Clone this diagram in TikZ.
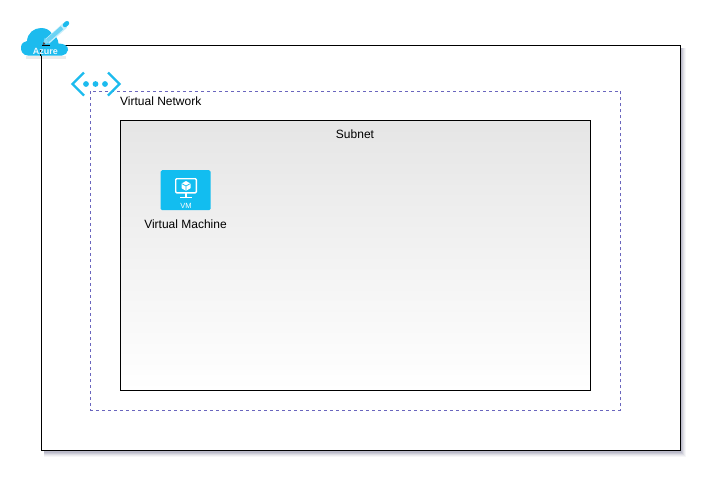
\documentclass[tikz,border=0pt]{standalone}
\usepackage{fontspec}
\setmainfont{Liberation Sans}
\definecolor{azureblue}{HTML}{1CBBEE}
\definecolor{vmblue}{HTML}{12BDF0}
\definecolor{dashblue}{HTML}{6A66BE}
\definecolor{shadowgray}{HTML}{8C8CA8}
\tikzset{
  lbl/.style={font=\fontsize{12}{14}\selectfont,text=black,inner sep=0pt},
  frameouter/.style={draw=black,line width=1pt,fill=white},
  framevnet/.style={draw=dashblue,line width=0.8pt,dash pattern=on 3pt off 3pt},
  framesubnet/.style={draw=black,line width=1pt,top color=black!10,bottom color=white},
  chev/.style={draw=azureblue,line width=2.2pt},
  wht/.style={draw=white,line width=1.4pt,line join=round}
}
\begin{document}
\begin{tikzpicture}[x=1pt,y=-1pt]
\useasboundingbox (0,0) rectangle (712,482);
\fill[white] (0,0) rectangle (712,482);
% shadow of the outer frame
\foreach \d/\o in {6/0.07,5/0.10,4/0.14,3/0.22,2/0.25}{
  \fill[shadowgray,opacity=\o] (44,48) rectangle (680+\d,450.5+\d);
}
\node[frameouter,minimum width=639.5pt,minimum height=405pt,inner sep=0pt,anchor=north west] (outer) at (40.5,45) {};
\node[framevnet,minimum width=530pt,minimum height=319.5pt,inner sep=0pt,anchor=north west] (vnet) at (90,90.5) {};
\node[framesubnet,minimum width=470pt,minimum height=270pt,inner sep=0pt,anchor=north west] (subnet) at (120.2,120.2) {};
\node[lbl,anchor=base west] (vnetlabel) at (120,105) {Virtual Network};
\node[lbl,anchor=base] (subnetlabel) at (355,138) {Subnet};
% Azure cloud
\fill[black,opacity=0.08] (26,56) rectangle (66,58.5);
\fill[azureblue] (28,55.5) .. controls (23,55.5) and (20.5,51) .. (21,47)
  .. controls (21.5,43) and (24,41.5) .. (27,41)
  .. controls (27.5,33) and (34,28) .. (41,28)
  .. controls (46,28) and (50,30) .. (52,34)
  .. controls (56,36) and (58,39) .. (58.5,43.5)
  .. controls (64,43.5) and (68.5,46) .. (68,50)
  .. controls (67.8,53) and (65,55.5) .. (62,55.5) -- cycle;
% pencil
\draw[white!75!azureblue,line width=6pt] (47,41.5) -- (65,25.5);
\draw[azureblue!65!white,line width=4pt] (47,41) -- (62,27.7);
\draw[azureblue,line width=4.5pt,line cap=round] (65,25) -- (67,23.2);
\fill[azureblue!55!white] (43,44.5) -- (44.8,37.8) -- (49.5,43) -- cycle;
\fill[black!70] (42.5,45) -- (43.6,42) -- (45.5,44) -- cycle;
\draw[black,line width=1pt] (42,45) -- (50,45);
\draw[black,line width=1pt] (40.5,50) -- (40.5,55.5);
\node[font=\bfseries\fontsize{9}{10}\selectfont,text=white!90!azureblue,inner sep=0pt] (azure) at (45.5,51) {Azure};
% VNet icon
\draw[chev] (84,72.5) -- (72.5,84) -- (84,95.5);
\draw[chev] (108,72.5) -- (119.5,84) -- (108,95.5);
\fill[azureblue] (86,84) circle (2.9pt) (95.5,84) circle (2.9pt) (105,84) circle (2.9pt);
% VM icon
\node[fill=vmblue,rounded corners=1.5pt,minimum width=50pt,minimum height=40pt,inner sep=0pt,anchor=north west] (vm) at (160.5,170) {};
\draw[wht,rounded corners=1pt] (175.7,178.7) rectangle (196.3,192.8);
\draw[wht,line width=2pt] (186,193) -- (186,197);
\draw[wht,line width=1.4pt] (180,197.5) -- (192,197.5);
\fill[white] (186,181) -- (190.5,183.5) -- (190.5,188.2) -- (186,190.8) -- (181.5,188.2) -- (181.5,183.5) -- cycle;
\draw[vmblue,line width=0.7pt] (181.5,183.5) -- (186,186) -- (190.5,183.5) (186,186) -- (186,190.8);
\node[font=\fontsize{7.5}{8}\selectfont,text=white,inner sep=0pt] (vmtext) at (186,205.5) {VM};
\node[lbl,anchor=base] (vmlabel) at (185.5,228) {Virtual Machine};
\end{tikzpicture}
\end{document}
